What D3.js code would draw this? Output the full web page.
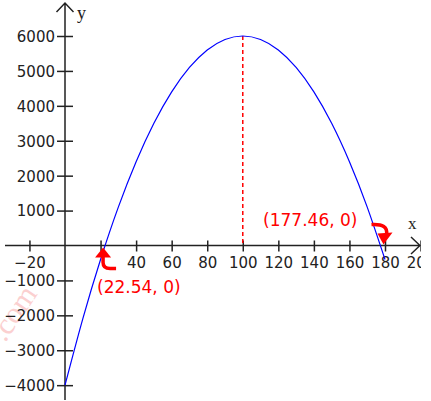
<!DOCTYPE html>
<html>
<head>
<meta charset="utf-8">
<script src="https://cdn.jsdelivr.net/npm/d3@7/dist/d3.min.js"></script>
<style>
  body { margin: 0; background: #fff; }
  svg { display: block; }
</style>
</head>
<body>
<div id="chart"></div>
<script>
// values
const curveX = [0, 10, 20, 30, 40, 50, 60, 70, 80, 90, 100, 110, 120, 130, 140, 150, 160, 170, 180];
const curveY = [-4000, -2100, -400, 1100, 2400, 3500, 4400, 5100, 5600, 5900, 6000, 5900, 5600, 5100, 4400, 3500, 2400, 1100, -400];
const xTicks = [-20, 20, 40, 60, 80, 100, 120, 140, 160, 180, 200];
const xHidden = [20];
const yTicks = [-4000, -3000, -2000, -1000, 1000, 2000, 3000, 4000, 5000, 6000];
const roots = [22.54, 177.46];
const rootLabels = ['(22.54, 0)', '(177.46, 0)'];
const vertex = [100, 6000];

let width = 421, height = 401;
let axisColor = '#222';
let font = '"DejaVu Sans", Verdana, sans-serif';

let xScale = d3.scaleLinear().domain([0, 180]).range([65, 385]);
let yScale = d3.scaleLinear().domain([0, 6000]).range([245.5, 36]);

let svg = d3.select('#chart').append('svg')
    .attr('width', width)
    .attr('height', height);

let x0 = xScale(0), y0 = yScale(0);

// watermark
svg.append('text')
    .attr('transform', 'translate(38,294) rotate(-56)')
    .attr('text-anchor', 'end')
    .attr('font-family', 'Liberation Serif, serif')
    .attr('font-size', 30)
    .attr('fill', '#fbd0d0')
    .text('.com');

// x axis
let xAxis = d3.axisBottom(xScale)
    .tickValues(xTicks)
    .tickSize(6)
    .tickFormat(d => xHidden.includes(d) ? '' : (d < 0 ? '\u2212' + (-d) : d));

let gx = svg.append('g')
    .attr('transform', 'translate(0,' + y0 + ')')
    .call(xAxis);
gx.select('.domain').remove();
gx.selectAll('.tick line').attr('y1', -5).attr('y2', 6).attr('stroke', axisColor).attr('stroke-width', 1.5);
gx.selectAll('.tick text')
    .attr('y', 22)
    .attr('dy', 0)
    .attr('font-family', font)
    .attr('font-size', 15)
    .attr('fill', axisColor);

// y axis
let yAxis = d3.axisLeft(yScale)
    .tickValues(yTicks)
    .tickSize(8)
    .tickFormat(d => d < 0 ? '\u2212' + (-d) : d);

let gy = svg.append('g')
    .attr('transform', 'translate(' + x0 + ',0)')
    .call(yAxis);
gy.select('.domain').remove();
gy.selectAll('.tick line').attr('x1', -8).attr('x2', 8).attr('stroke', axisColor).attr('stroke-width', 1.5);
gy.selectAll('.tick text')
    .attr('x', -10)
    .attr('dy', '0.36em')
    .attr('font-family', font)
    .attr('font-size', 15)
    .attr('fill', axisColor);

// axis lines with arrows
svg.append('path')
    .attr('d', 'M5,' + y0 + 'H420 M411,' + (y0 - 8.5) + 'L420,' + y0 + 'L411,' + (y0 + 8.5))
    .attr('fill', 'none').attr('stroke', axisColor).attr('stroke-width', 1.5);
svg.append('path')
    .attr('d', 'M' + x0 + ',400V3 M' + (x0 - 8.5) + ',12L' + x0 + ',3L' + (x0 + 8.5) + ',12')
    .attr('fill', 'none').attr('stroke', axisColor).attr('stroke-width', 1.5);

svg.append('text')
    .attr('x', 77).attr('y', 19)
    .attr('font-family', 'Liberation Serif, serif')
    .attr('font-size', 18)
    .attr('fill', axisColor)
    .text('y');
svg.append('text')
    .attr('x', 408).attr('y', 229)
    .attr('font-family', 'Liberation Serif, serif')
    .attr('font-size', 17)
    .attr('fill', axisColor)
    .text('x');

// vertex dashed line
svg.append('line')
    .attr('x1', xScale(vertex[0])).attr('x2', xScale(vertex[0]))
    .attr('y1', yScale(vertex[1])).attr('y2', y0)
    .attr('stroke', '#ff0000')
    .attr('stroke-width', 1.5)
    .attr('stroke-dasharray', '4,3');

// parabola
let line = d3.line()
    .x((d, i) => xScale(curveX[i]))
    .y(d => yScale(d))
    .curve(d3.curveNatural);

svg.append('path')
    .datum(curveY)
    .attr('d', line)
    .attr('fill', 'none')
    .attr('stroke', '#0000ff')
    .attr('stroke-width', 1.2);

// root annotations
let r1 = xScale(roots[0]), r2 = xScale(roots[1]);
let red = '#ff0000';

svg.append('path')
    .attr('d', 'M' + (r1 - 2) + ',' + (y0 + 10) + 'V' + (y0 + 17) + 'Q' + (r1 - 2) + ',' + (y0 + 23) + ' ' + (r1 + 5) + ',' + (y0 + 23) + 'H' + (r1 + 11))
    .attr('fill', 'none').attr('stroke', red).attr('stroke-width', 3.5);
svg.append('path')
    .attr('d', 'M' + (r1 - 2) + ',' + (y0 + 2) + 'L' + (r1 + 6) + ',' + (y0 + 12) + 'L' + (r1 - 10) + ',' + (y0 + 12) + 'Z')
    .attr('fill', red);

svg.append('path')
    .attr('d', 'M' + (r2 - 9) + ',' + (y0 - 21) + 'Q' + (r2 + 8) + ',' + (y0 - 22) + ' ' + (r2 + 6) + ',' + (y0 - 11))
    .attr('fill', 'none').attr('stroke', red).attr('stroke-width', 3.5);
svg.append('path')
    .attr('d', 'M' + (r2 - 3) + ',' + (y0 - 12) + 'L' + (r2 + 12) + ',' + (y0 - 13) + 'L' + (r2 + 3) + ',' + (y0 - 1) + 'Z')
    .attr('fill', red);

svg.append('text')
    .attr('x', r1 - 8).attr('y', y0 + 47)
    .attr('font-family', font).attr('font-size', 17)
    .attr('fill', red)
    .text(rootLabels[0]);
svg.append('text')
    .attr('x', r2 - 23).attr('y', y0 - 20)
    .attr('text-anchor', 'end')
    .attr('font-family', font).attr('font-size', 17)
    .attr('fill', red)
    .text(rootLabels[1]);
</script>
</body>
</html>
